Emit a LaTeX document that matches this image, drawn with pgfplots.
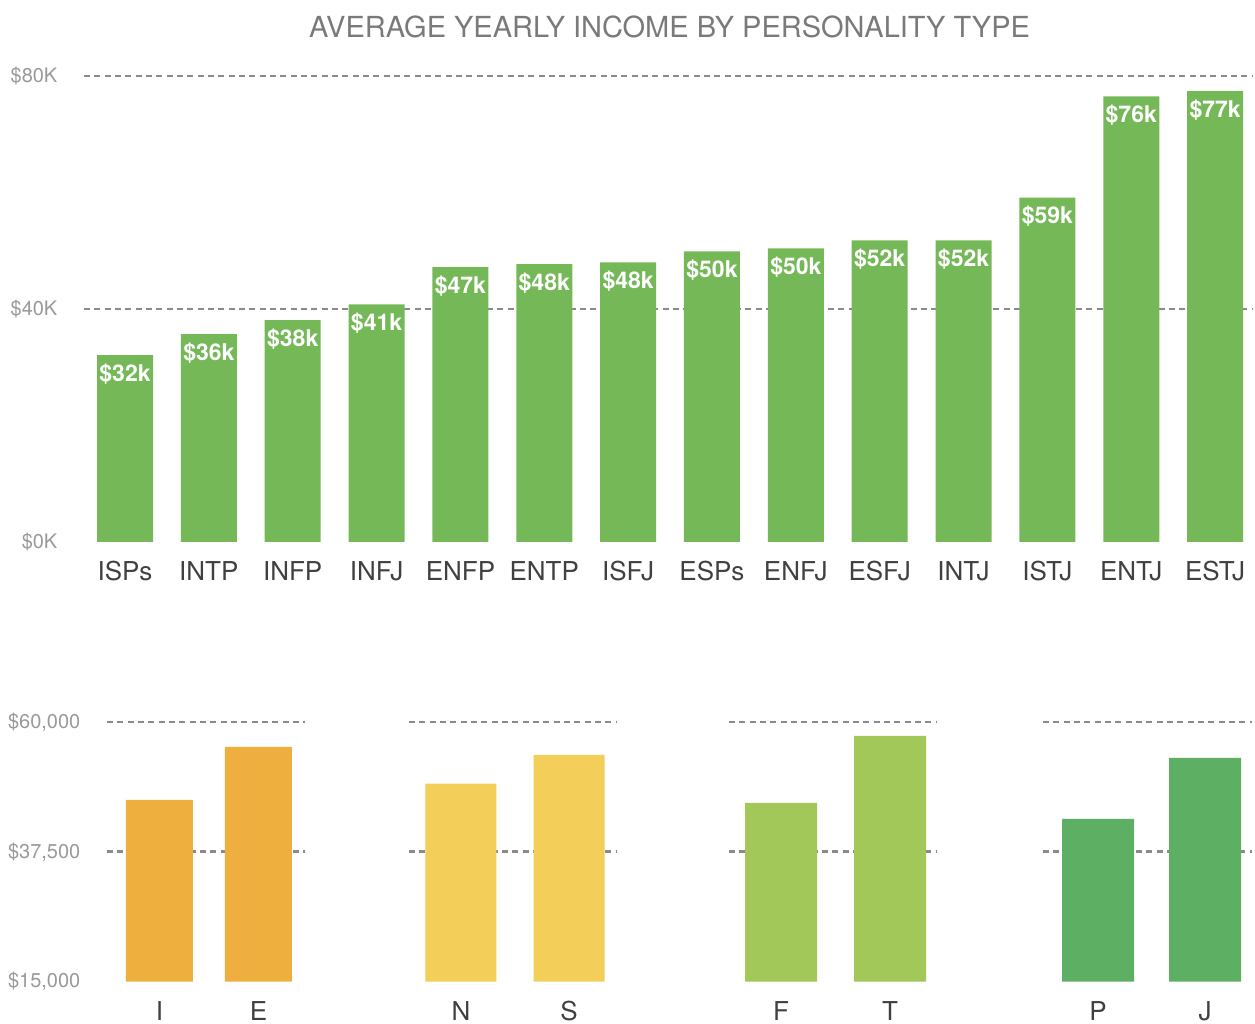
\documentclass[border=0pt]{standalone}
\usepackage{pgfplots}
\usepackage{pgfplotstable}
\pgfplotsset{compat=1.18}
\usepackage{fontspec}
\setmainfont{TeX Gyre Heros}
\definecolor{topgreen}{HTML}{74B857}
\definecolor{ieorange}{HTML}{EEAF3F}
\definecolor{nsyellow}{HTML}{F3CF5A}
\definecolor{ftgreen}{HTML}{A2C85A}
\definecolor{pjgreen}{HTML}{5CAF63}
\definecolor{gridgray}{HTML}{8A8A8A}
\definecolor{ticklab}{HTML}{999999}
\definecolor{catlab}{HTML}{404040}
\definecolor{titlegray}{HTML}{7A7A7A}

\pgfplotstableread{
x y lab
0 32.1 32
1 35.7 36
2 38.1 38
3 40.8 41
4 47.2 47
5 47.7 48
6 48.0 48
7 49.9 50
8 50.4 50
9 51.8 52
10 51.8 52
11 59.1 59
12 76.5 76
13 77.4 77
}\topdata

\pgfplotstableread{
x y
0 46500
1 55700
}\IEdata
\pgfplotstableread{
x y
0 49300
1 54300
}\NSdata
\pgfplotstableread{
x y
0 46000
1 57600
}\FTdata
\pgfplotstableread{
x y
0 43200
1 53800
}\PJdata

\pgfplotsset{
  myaxis/.style={
    scale only axis,
    anchor=south west,
    axis line style={draw=none},
    major tick length=0pt,
    tick style={draw=none},
    xtick=data,
    ytick pos=left,
    xtick pos=bottom,
    scaled y ticks=false,
    xticklabel style={font=\fontsize{15.6}{18}\selectfont, text=catlab, inner sep=0pt, yshift=-11.5pt},
    yticklabel style={font=\fontsize{12}{14}\selectfont, text=ticklab, inner sep=0pt, anchor=east, xshift=-15.8pt},
    ymajorgrids=true,
    xmajorgrids=false,
    grid style={draw=gridgray, line width=1.6pt, dash pattern=on 3.6pt off 2.6pt},
    major grid style={draw=gridgray, line width=1.6pt, dash pattern=on 3.6pt off 2.6pt},
    extra y tick style={grid=none},
  },
}

\begin{document}
\begin{tikzpicture}
\useasboundingbox (0pt,0pt) rectangle (753pt,614.4pt);
\node[text=titlegray, font=\fontsize{17.4}{20}\selectfont, inner sep=0pt] at (401.7pt,598.2pt) {AVERAGE YEARLY INCOME BY PERSONALITY TYPE};

% top chart (ymax a little above 80 so the top grid line is not clipped)
\begin{axis}[myaxis,
  at={(50.4pt,289.2pt)}, width=700.8pt, height=286.59pt,
  xmin=-0.489, xmax=13.44, ymin=0, ymax=82,
  xticklabels={ISPs,INTP,INFP,INFJ,ENFP,ENTP,ISFJ,ESPs,ENFJ,ESFJ,INTJ,ISTJ,ENTJ,ESTJ},
  ytick={40,80}, yticklabels={\$40K,\$80K},
  extra y ticks={0}, extra y tick labels={\$0K},
  ybar, bar width=33.6pt,
  point meta=explicit symbolic,
  nodes near coords={\$\pgfplotspointmeta k},
  every node near coord/.append style={font=\bfseries\fontsize{13.8}{16}\selectfont, text=white, anchor=north, inner sep=0pt, yshift=-5pt},
]
\addplot[draw=none, fill=topgreen] table[x=x, y=y, meta=lab] {\topdata};
\end{axis}

% I/E
\begin{axis}[myaxis,
  at={(64.2pt,25.4pt)}, width=118.8pt, height=159.26pt,
  xmin=-0.53, xmax=1.47, ymin=15000, ymax=61000,
  xticklabels={I,E},
  ytick={37500,60000}, yticklabels={\$37{,}500,\$60{,}000},
  extra y ticks={15000}, extra y tick labels={\$15{,}000},
  ybar, bar width=40.2pt,
]
\addplot[draw=none, fill=ieorange] table[x=x, y=y] {\IEdata};
\end{axis}

% N/S
\begin{axis}[myaxis,
  at={(245.4pt,25.4pt)}, width=124.8pt, height=159.26pt,
  xmin=-0.481, xmax=1.444, ymin=15000, ymax=61000,
  xticklabels={N,S},
  ytick={37500,60000}, yticklabels={},
  ybar, bar width=42.6pt,
]
\addplot[draw=none, fill=nsyellow] table[x=x, y=y] {\NSdata};
\end{axis}

% F/T
\begin{axis}[myaxis,
  at={(437.4pt,25.4pt)}, width=124.8pt, height=159.26pt,
  xmin=-0.477, xmax=1.431, ymin=15000, ymax=61000,
  xticklabels={F,T},
  ytick={37500,60000}, yticklabels={},
  ybar, bar width=43.2pt,
]
\addplot[draw=none, fill=ftgreen] table[x=x, y=y] {\FTdata};
\end{axis}

% P/J
\begin{axis}[myaxis,
  at={(625.8pt,25.4pt)}, width=125.4pt, height=159.26pt,
  xmin=-0.514, xmax=1.439, ymin=15000, ymax=61000,
  xticklabels={P,J},
  ytick={37500,60000}, yticklabels={},
  ybar, bar width=43.2pt,
]
\addplot[draw=none, fill=pjgreen] table[x=x, y=y] {\PJdata};
\end{axis}
\end{tikzpicture}
\end{document}
